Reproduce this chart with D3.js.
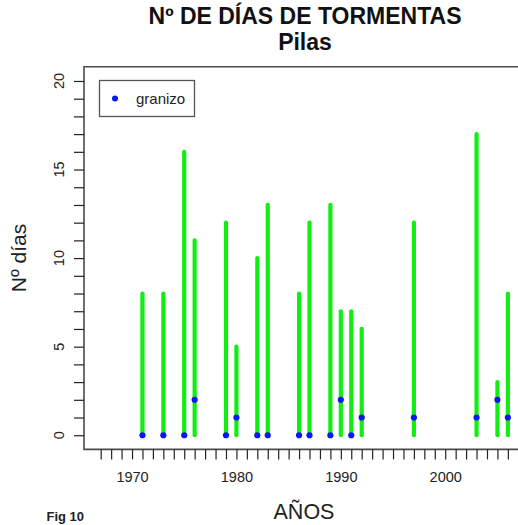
<!DOCTYPE html>
<html>
<head>
<meta charset="utf-8">
<script src="https://cdn.jsdelivr.net/npm/d3@7"></script>
<style>
  html, body { margin: 0; padding: 0; background: #fff; }
  svg { display: block; font-family: "Liberation Sans", Arial, Helvetica, sans-serif; }
</style>
</head>
<body>
<svg id="chart" width="518" height="525"></svg>
<script>
// Storm days per year at Pilas, with days of hail marked as dots
const years      = [1971, 1973, 1975, 1976, 1979, 1980, 1982, 1983, 1986, 1987, 1989, 1990, 1991, 1992, 1997, 2003, 2005, 2006];
const tormentas  = [8, 8, 16, 11, 12, 5, 10, 13, 8, 12, 13, 7, 7, 6, 12, 17, 3, 8];
const granizo    = [0, 0, 0, 2, 0, 1, 0, 0, 0, 0, 0, 2, 0, 1, 1, 1, 2, 1];

const xTickLabels = [1970, 1980, 1990, 2000];
const yTickLabels = [0, 5, 10, 15, 20];

const titleLines = ["Nº DE DÍAS DE TORMENTAS", "Pilas"];
const xTitle = "AÑOS";
const yTitle = "Nº días";
const legendLabel = "granizo";
const figLabel = "Fig 10";

const svg = d3.select("#chart");

const frame = { left: 84, top: 66.8, bottom: 449.4 };
const x = d3.scaleLinear().domain([1965.4, 2007.1]).range([frame.left, frame.left + 41.7 * 10.44]);
const y = d3.scaleLinear().domain([-0.8, 20.8]).range([frame.bottom, frame.top]);

const green = "#12ee12";
const blue = "#0818f4";

// plot frame (open to the right edge)
svg.append("path")
  .attr("d", `M${x.range()[1]},${frame.top}H${frame.left}V${frame.bottom}H${x.range()[1]}`)
  .attr("fill", "none").attr("stroke", "#4a4a4a").attr("stroke-width", 1.6);

// x axis: a tick for every year, labels each decade
const xAxis = d3.axisBottom(x)
  .tickValues(d3.range(1967, 2007))
  .tickSize(10)
  .tickFormat(d => xTickLabels.includes(d) ? d : "");
const gx = svg.append("g").attr("transform", `translate(0,${frame.bottom})`).call(xAxis);
gx.select(".domain").remove();
gx.selectAll(".tick line").attr("stroke", "#222").attr("stroke-width", 1.2);
gx.selectAll(".tick text")
  .attr("y", 22).attr("dy", "0.71em")
  .attr("font-size", 14.5).attr("fill", "#222")
  .style("font-family", "'Liberation Sans', Arial, sans-serif");

// y axis: a tick for every day, rotated labels every five
const yAxis = d3.axisLeft(y)
  .tickValues(d3.range(0, 21))
  .tickSize(10)
  .tickFormat("");
const gy = svg.append("g").attr("transform", `translate(${frame.left},0)`).call(yAxis);
gy.select(".domain").remove();
gy.selectAll(".tick line").attr("stroke", "#222").attr("stroke-width", 1.2);
gy.selectAll(".ylab")
  .data(yTickLabels)
  .join("text")
  .attr("class", "ylab")
  .attr("transform", d => `translate(-20,${y(d)}) rotate(-90)`)
  .attr("text-anchor", "middle")
  .attr("font-size", 14.5)
  .attr("fill", "#222")
  .text(d => d);

// storm-day stems
svg.append("g").selectAll("line")
  .data(years)
  .join("line")
  .attr("x1", d => x(d)).attr("x2", d => x(d))
  .attr("y1", y(0))
  .attr("y2", (d, i) => y(tormentas[i]))
  .attr("stroke", green)
  .attr("stroke-width", 4.2)
  .attr("stroke-linecap", "round");

// hail days
svg.append("g").selectAll("circle")
  .data(years)
  .join("circle")
  .attr("cx", d => x(d))
  .attr("cy", (d, i) => y(granizo[i]))
  .attr("r", 3.1)
  .attr("fill", blue);

// legend
const lg = svg.append("g");
lg.append("rect")
  .attr("x", 99.5).attr("y", 80.5).attr("width", 95).attr("height", 36)
  .attr("fill", "#fff").attr("stroke", "#555").attr("stroke-width", 1.3);
lg.append("circle").attr("cx", 115).attr("cy", 98.5).attr("r", 3).attr("fill", blue);
lg.append("text").attr("x", 136).attr("y", 104.3)
  .attr("font-size", 15).attr("fill", "#222").text(legendLabel);

// titles
const cx = 305;
svg.append("text").attr("x", cx).attr("y", 23.5).attr("text-anchor", "middle")
  .attr("font-size", 23).attr("font-weight", "bold").attr("fill", "#111").text(titleLines[0]);
svg.append("text").attr("x", cx).attr("y", 50).attr("text-anchor", "middle")
  .attr("font-size", 23).attr("font-weight", "bold").attr("fill", "#111").text(titleLines[1]);

svg.append("text").attr("x", 304).attr("y", 518.5).attr("text-anchor", "middle")
  .attr("font-size", 21.5).attr("fill", "#222").text(xTitle);

svg.append("text")
  .attr("transform", `translate(26,258) rotate(-90)`)
  .attr("text-anchor", "middle")
  .attr("font-size", 21).attr("fill", "#222").text(yTitle);

svg.append("text").attr("x", 46.5).attr("y", 521)
  .attr("font-size", 13).attr("font-weight", "bold").attr("fill", "#222").text(figLabel);
</script>
</body>
</html>
